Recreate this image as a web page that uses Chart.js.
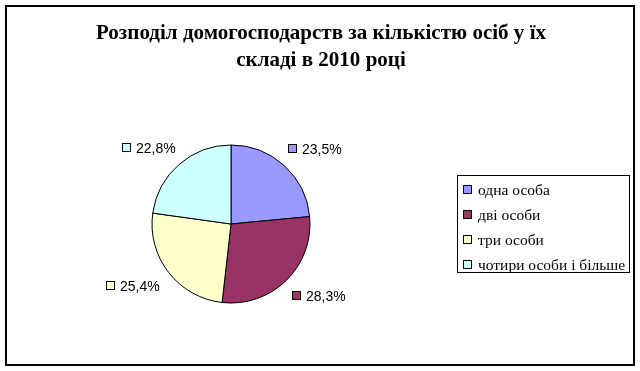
<!DOCTYPE html>
<html>
<head>
<meta charset="utf-8">
<script src="https://cdn.jsdelivr.net/npm/chart.js@4/dist/chart.umd.min.js"></script>
<style>
  html, body { margin: 0; padding: 0; background: #fff; }
  canvas { display: block; }
</style>
</head>
<body>
<canvas id="chart" width="640" height="371"></canvas>
<script>
// chart data
const titleLines = ['Розподіл домогосподарств за кількістю осіб у їх', 'складі в 2010 році'];
const categories = ['одна особа', 'дві особи', 'три особи', 'чотири особи і більше'];
const shares = [23.5, 28.3, 25.4, 22.8];
const sliceColors = ['#9999FF', '#993366', '#FFFFCC', '#CCFFFF'];

const fmt = v => v.toFixed(1).replace('.', ',') + '%';

// frame, title, data labels, legend
const decor = {
  id: 'decor',
  beforeDraw(chart) {
    const ctx = chart.ctx;
    ctx.save();
    ctx.fillStyle = '#fff';
    ctx.fillRect(0, 0, chart.width, chart.height);
    ctx.restore();
  },
  afterDraw(chart) {
    const ctx = chart.ctx;
    ctx.save();

    // outer frame
    ctx.strokeStyle = '#000';
    ctx.lineWidth = 2;
    ctx.strokeRect(6, 6, 628, 359);

    // title (condensed bold serif)
    ctx.fillStyle = '#000';
    ctx.font = 'bold 22px "Liberation Serif", "Times New Roman", serif';
    ctx.textBaseline = 'alphabetic';
    ctx.textAlign = 'center';
    const sx = 450 / ctx.measureText(titleLines[0]).width;
    [39, 66].forEach((y, i) => {
      ctx.save();
      ctx.translate(321, y);
      ctx.scale(sx, 1);
      ctx.fillText(titleLines[i], 0, 0);
      ctx.restore();
    });

    // data labels outside each slice
    const meta = chart.getDatasetMeta(0);
    ctx.font = '14px "Liberation Sans", Arial, sans-serif';
    ctx.textAlign = 'left';
    ctx.textBaseline = 'middle';
    meta.data.forEach((arc, i) => {
      const p = arc.getProps(['x', 'y', 'startAngle', 'endAngle', 'outerRadius'], true);
      const mid = (p.startAngle + p.endAngle) / 2;
      const c = Math.cos(mid), s = Math.sin(mid);
      const text = fmt(shares[i]);
      const w = 14 + ctx.measureText(text).width;
      const h = 16;
      const cx = p.x + c * (p.outerRadius + 19 + w / 2);
      const cy = p.y + s * (p.outerRadius + 14 + h / 2);
      const left = Math.round(cx - w / 2);
      const yy = Math.round(cy);
      ctx.fillStyle = sliceColors[i];
      ctx.fillRect(left + 0.5, yy - 4.5, 8, 8);
      ctx.strokeStyle = '#000';
      ctx.lineWidth = 1;
      ctx.strokeRect(left + 0.5, yy - 4.5, 8, 8);
      ctx.fillStyle = '#000';
      ctx.fillText(text, left + 14, yy + 1);
    });

    // legend box
    ctx.strokeStyle = '#000';
    ctx.lineWidth = 1;
    ctx.strokeRect(457.5, 175.5, 172, 97);
    ctx.font = '15.5px "Liberation Serif", "Times New Roman", serif';
    categories.forEach((name, i) => {
      const y = 190 + i * 25;
      ctx.fillStyle = sliceColors[i];
      ctx.fillRect(463.5, y - 4.5, 8, 8);
      ctx.strokeRect(463.5, y - 4.5, 8, 8);
      ctx.fillStyle = '#000';
      ctx.fillText(name, 478, y + 1);
    });

    ctx.restore();
  }
};

new Chart(document.getElementById('chart'), {
  type: 'pie',
  data: {
    labels: categories,
    datasets: [{
      data: shares,
      backgroundColor: sliceColors,
      borderColor: '#000',
      borderWidth: 1
    }]
  },
  options: {
    responsive: false,
    animation: false,
    radius: 79,
    layout: { padding: { left: 131, right: 309, top: 124, bottom: 47 } },
    plugins: {
      legend: { display: false },
      title: { display: false },
      tooltip: { enabled: false }
    }
  },
  plugins: [decor]
});
</script>
</body>
</html>
